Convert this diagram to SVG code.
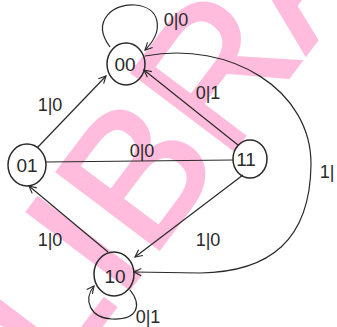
<svg xmlns="http://www.w3.org/2000/svg" width="337" height="327" viewBox="0 0 337 327">
<style>
.wm{font-family:"Liberation Sans",Arial,sans-serif;font-size:186px;fill:#ffbcdc;stroke:#ffbcdc;stroke-width:3}
.node{fill:none;stroke:#2a2a2a;stroke-width:1.5}
.nt{font-family:"Liberation Sans",Arial,sans-serif;font-size:19px;fill:#2a2a2a;text-anchor:middle}
.lb{font-family:"Liberation Sans",Arial,sans-serif;font-size:18px;fill:#2a2a2a;text-anchor:middle}
.e{fill:none;stroke:#2a2a2a;stroke-width:1.2}
</style>
<defs>
<marker id="ah" viewBox="0 0 10 10" refX="9" refY="5" markerWidth="9" markerHeight="9" markerUnits="userSpaceOnUse" orient="auto">
<path d="M1,1 L9,5 L1,9" fill="none" stroke="#2a2a2a" stroke-width="1.3"/>
</marker>
</defs>
<rect width="337" height="327" fill="#ffffff"/>
<text class="wm" x="57" y="385" transform="rotate(-53 57 385)">LIBRARY</text>
<g id="connectors">
<path class="e" d="M37,148 L106,76" marker-end="url(#ah)"/>
<path class="e" d="M238,145 L144,70" marker-end="url(#ah)"/>
<path class="e" d="M46,162 L233,160"/>
<path class="e" d="M243,175 L135,257" marker-end="url(#ah)"/>
<path class="e" d="M108,252 L29,186" marker-end="url(#ah)"/>
<path class="e" d="M145,56 C230,40 312,90 311,165 C310,240 270,272 200,273 L134,272" marker-end="url(#ah)"/>
<path class="e" d="M110,47 C90,20 115,3 135,5 C160,7 165,30 145,50" marker-end="url(#ah)"/>
<path class="e" d="M130,290 C142,305 138,320 112,319 C90,318 83,300 94,286" marker-end="url(#ah)"/>
</g>
<g id="n00"><ellipse class="node" cx="126" cy="64" rx="19" ry="21"/><text class="nt" x="125" y="71">00</text></g>
<g id="n01"><ellipse class="node" cx="27" cy="165" rx="19" ry="21"/><text class="nt" x="27" y="172">01</text></g>
<g id="n11"><ellipse class="node" cx="250" cy="159" rx="17" ry="19"/><text class="nt" x="246" y="166">11</text></g>
<g id="n10"><ellipse class="node" cx="114" cy="274" rx="20" ry="22"/><text class="nt" x="115" y="283">10</text></g>
<g id="labels">
<text class="lb" x="176" y="26">0|0</text>
<text class="lb" x="50" y="111">1|0</text>
<text class="lb" x="208" y="99">0|1</text>
<text class="lb" x="142" y="157">0|0</text>
<text class="lb" x="208" y="246">1|0</text>
<text class="lb" x="50" y="246">1|0</text>
<text class="lb" x="148" y="323">0|1</text>
<text class="lb" x="327" y="178">1|</text>
</g>
</svg>
